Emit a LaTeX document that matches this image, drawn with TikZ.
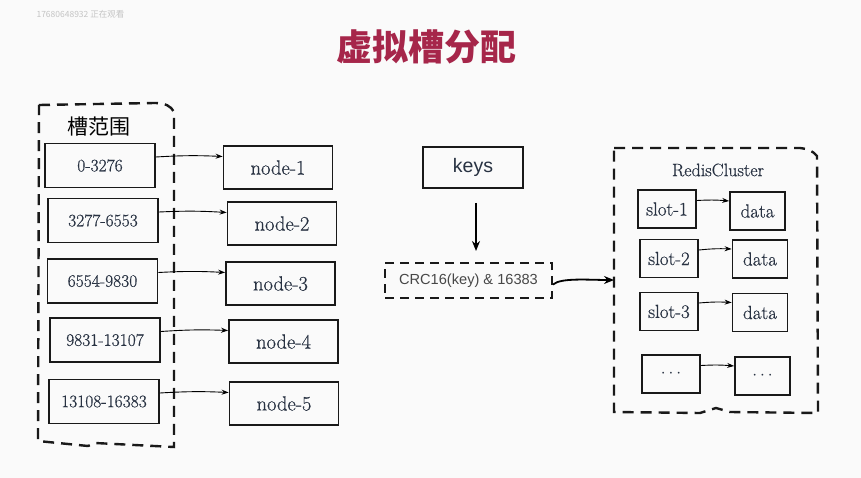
\documentclass[tikz,border=0pt]{standalone}
\usepackage{fontspec}
\newfontfamily\cjk{Noto Sans CJK SC}
\newfontfamily\sans{Liberation Sans}
\newfontfamily\boxfont{Latin Modern Roman}[FakeBold=0.5]
\usetikzlibrary{arrows.meta}
\definecolor{bgc}{RGB}{250,250,250}
\definecolor{titlec}{RGB}{166,38,74}
\definecolor{textc}{RGB}{40,50,66}
\definecolor{markc}{RGB}{196,196,196}

\begin{document}
\begin{tikzpicture}[x=1pt, y=-1pt, >=Stealth,
		box/.style={draw=black!90, line width=1.8pt, inner sep=0pt, text=textc},
		rangebox/.style={box, minimum width=110pt, minimum height=44pt, font=\boxfont\fontsize{17.5}{20}\selectfont},
		nodebox/.style={box, minimum width=109pt, minimum height=43pt, font=\boxfont\fontsize{20.5}{24}\selectfont},
		slotbox/.style={box, minimum width=58pt, minimum height=38pt, font=\boxfont\fontsize{19}{22}\selectfont},
		databox/.style={box, minimum width=55pt, minimum height=38pt, font=\boxfont\fontsize{19}{22}\selectfont},
		dashbox/.style={draw=black!90, line width=2.4pt, dash pattern=on 11pt off 7pt},
		thin arrow/.style={->, line width=0.9pt, >={Stealth[length=7pt,width=5pt]}},
		thick arrow/.style={->, line width=1.8pt, >={Stealth[length=10pt,width=8pt]}}]
	% 背景与边界
	\fill[bgc] (0,0) rectangle (861,478);
	\useasboundingbox (0,0) rectangle (861,478);

	% 水印与标题
	\node[text=markc, font=\cjk\fontsize{8.5}{10}\selectfont, anchor=west] (mark) at (33,14) {17680648932 正在观看};
	\node[text=titlec, font=\cjk\bfseries\fontsize{36}{40}\selectfont] (title) at (426,47) {虚拟槽分配};

	% ---------- 左侧：槽范围 -> 节点 ----------
	\draw[dashbox] (39,105) -- (155,103) .. controls (165,103) and (171,106) .. (174,112)
		-- (174,447) -- (95,443) -- (88,446) -- (38,441) -- cycle;
	\node[font=\cjk\fontsize{21}{24}\selectfont] (rangetitle) at (99,127) {槽范围};

	% 槽范围方框
	\node[rangebox] (r1) at (100,165.5) {0-3276};
	\node[rangebox] (r2) at (103,220.5) {3277-6553};
	\node[rangebox] (r3) at (102.5,281) {6554-9830};
	\node[rangebox] (r4) at (105,340) {9831-13107};
	\node[rangebox] (r5) at (104,401.5) {13108-16383};

	% 节点方框
	\node[nodebox] (n1) at (278,167.5) {node-1};
	\node[nodebox] (n2) at (282,223.5) {node-2};
	\node[nodebox] (n3) at (280.5,283.5) {node-3};
	\node[nodebox] (n4) at (283.5,341.5) {node-4};
	\node[nodebox] (n5) at (284,403.5) {node-5};

	% 映射箭头
	\foreach \i in {1,...,5}
		\draw[thin arrow] ([yshift=8.5pt]r\i.east) to[bend left=3] ([yshift=11pt]n\i.west);

	% ---------- 中间：keys -> CRC16 ----------
	\node[box, minimum width=100pt, minimum height=41pt, font=\sans\fontsize{19.5}{22}\selectfont] (keys) at (473,167.5) {keys};
	\node[draw=black!90, line width=2pt, dash pattern=on 9pt off 6pt, inner sep=0pt,
		minimum width=167pt, minimum height=35pt, text=black!72,
		font=\sans\fontsize{14.6}{17}\selectfont] (crc) at (468.5,280.5) {CRC16(key) \& 16383};
	\draw[thick arrow, shorten <=14pt, shorten >=11pt] (keys.south -| 476,0) -- (crc.north -| 476,0);

	% ---------- 右侧：RedisCluster ----------
	\draw[dashbox] (614,148) -- (800,148) .. controls (808,149) and (813,151) .. (817,156)
		-- (818,413) -- (730,412) -- (716,408) -- (700,413) -- (614,412) -- cycle;
	\node[text=textc, font=\boxfont\fontsize{18}{21}\selectfont] (clustertitle) at (718,170) {RedisCluster};
	\coordinate (clusterin) at (614,280);
	\draw[thick arrow] ([yshift=-4pt]crc.east) .. controls +(8,-7) and +(-25,0) .. (clusterin);

	% 槽与数据
	\node[slotbox] (s1) at (667,209) {slot-1};
	\node[slotbox] (s2) at (669,258.5) {slot-2};
	\node[slotbox] (s3) at (669,311.5) {slot-3};
	\node[slotbox] (s4) at (671,374) {$\cdots$};
	\node[databox] (d1) at (757.5,211) {data};
	\node[databox] (d2) at (760,259) {data};
	\node[databox] (d3) at (760,312.5) {data};
	\node[databox] (d4) at (762.5,376) {$\cdots$};
	\foreach \i in {1,...,4}
		\draw[thin arrow] ([yshift=8.5pt]s\i.east) to[bend left=4] ([yshift=10pt]d\i.west);
\end{tikzpicture}
\end{document}
